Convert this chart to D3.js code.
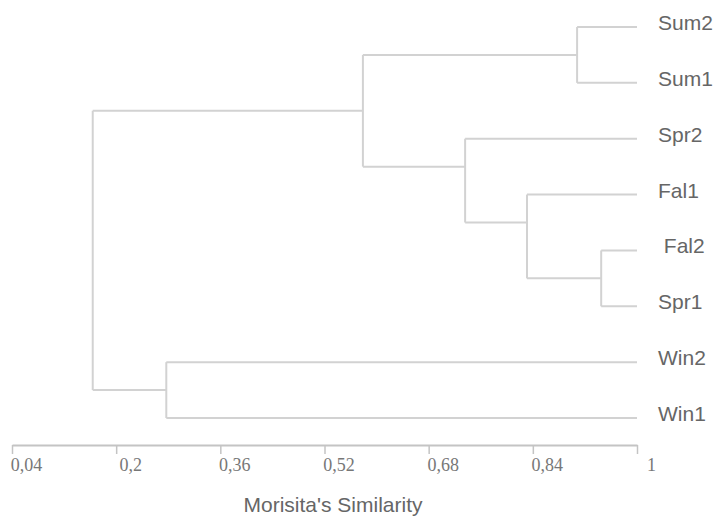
<!DOCTYPE html>
<html>
<head>
<meta charset="utf-8">
<script src="https://cdn.jsdelivr.net/npm/d3@7"></script>
<style>
  body { margin: 0; background: #fff; }
  svg { display: block; }
</style>
</head>
<body>
<div id="chart"></div>
<script>
// Leaves, top to bottom
const leaves = ["Sum2", "Sum1", "Spr2", "Fal1", " Fal2", "Spr1", "Win2", "Win1"];
// Clusters in merge order: name, its two children, similarity at which they join
const clusterNames = ["Sum", "FalSpr", "Fal", "Spr", "Top", "Win", "Root"];
const clusterChildren = [
    ["Sum2", "Sum1"],
    [" Fal2", "Spr1"],
    ["Fal1", "FalSpr"],
    ["Spr2", "Fal"],
    ["Sum", "Spr"],
    ["Win2", "Win1"],
    ["Top", "Win"]
];
const clusterSimilarity = [0.908, 0.945, 0.831, 0.736, 0.579, 0.277, 0.164];
const tickValues = [0.04, 0.2, 0.36, 0.52, 0.68, 0.84, 1];

const width = 720, height = 517;
const lineColor = "#d2d2d2";

const svg = d3.select("#chart")
    .append("svg")
    .attr("width", width)
    .attr("height", height);

const x = d3.scaleLinear().domain([0.04, 1]).range([12, 637]);
const y = d3.scalePoint().domain(leaves).range([27, 418]);

// Build node table
const nodes = {};
leaves.forEach(l => { nodes[l] = { name: l, leaf: true, sim: 1, y: y(l) }; });
clusterNames.forEach((c, i) => {
    const kids = clusterChildren[i].map(k => nodes[k]);
    nodes[c] = { name: c, leaf: false, sim: clusterSimilarity[i], kids: kids };
});

const firstLeaf = n => n.leaf ? n : firstLeaf(n.kids[0]);

// Vertical position of each cluster (as the original software drew it)
clusterNames.forEach(c => {
    const n = nodes[c];
    const [a, b] = n.kids;
    const by = (a.leaf && !b.leaf) ? firstLeaf(b).y : b.y;
    n.y = (a.y + by) / 2;
});

const g = svg.append("g")
    .attr("fill", "none")
    .attr("stroke", lineColor)
    .attr("stroke-width", 2);

// Draw each cluster: vertical bar + horizontal arms to children
clusterNames.forEach(c => {
    const n = nodes[c];
    const nx = x(n.sim);
    g.append("line")
        .attr("x1", nx).attr("x2", nx)
        .attr("y1", n.kids[0].y).attr("y2", n.kids[1].y);
    n.kids.forEach(k => {
        g.append("line")
            .attr("x1", nx).attr("x2", x(k.sim))
            .attr("y1", k.y).attr("y2", k.y);
    });
});

// Leaf labels
svg.selectAll(".leaf-label")
    .data(leaves)
    .enter()
    .append("text")
    .attr("class", "leaf-label")
    .attr("x", 658)
    .attr("y", d => y(d) + 3)
    .style("white-space", "pre")
    .attr("font-family", "Liberation Sans, Arial, sans-serif")
    .attr("font-size", 21)
    .attr("fill", "#666")
    .text(d => d);

// Axis
const axis = d3.axisBottom(x)
    .tickValues(tickValues)
    .tickSize(9)
    .tickSizeOuter(0)
    .tickFormat(d => String(d).replace(".", ","));

const ax = svg.append("g")
    .attr("transform", "translate(0,445)")
    .call(axis);

ax.select(".domain").attr("stroke", "#c4c4c4").attr("stroke-width", 2);
ax.selectAll(".tick line").attr("stroke", "#c4c4c4").attr("stroke-width", 1.5).attr("y1", 0);
ax.selectAll(".tick text")
    .attr("x", 14)
    .attr("y", 26)
    .attr("dy", 0)
    .attr("text-anchor", "middle")
    .attr("font-family", "Liberation Serif, Times New Roman, serif")
    .attr("font-size", 18)
    .attr("fill", "#777");

// Axis title
svg.append("text")
    .attr("x", 333)
    .attr("y", 512)
    .attr("text-anchor", "middle")
    .attr("font-family", "Liberation Sans, Arial, sans-serif")
    .attr("font-size", 21)
    .attr("fill", "#666")
    .text("Morisita's Similarity");
</script>
</body>
</html>
